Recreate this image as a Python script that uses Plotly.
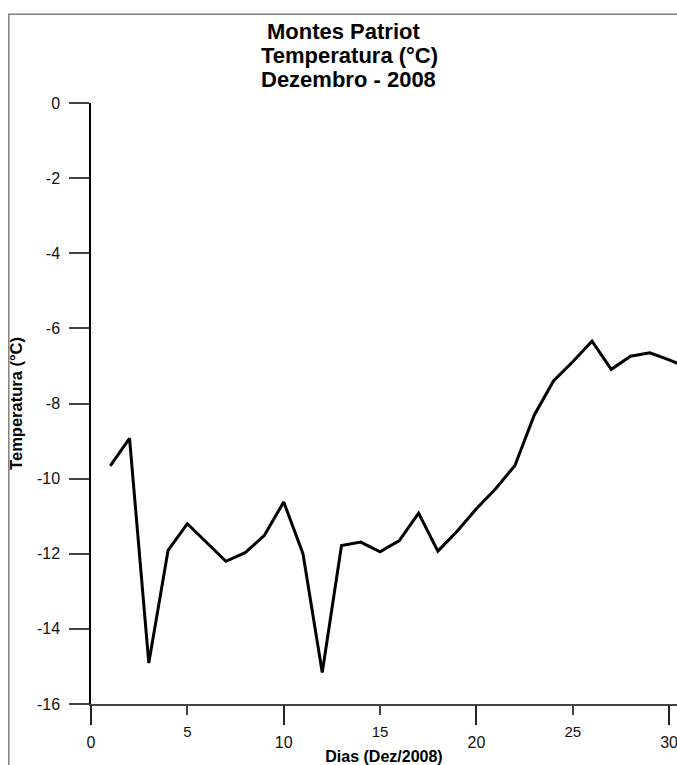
import plotly.graph_objects as go

# ---- data ----
days = list(range(1, 32))
temps = [-9.66, -8.93, -14.91, -11.91, -11.20, -11.70, -12.20, -11.97, -11.51, -10.62,
         -12.00, -15.16, -11.78, -11.69, -11.95, -11.65, -10.92, -11.93, -11.40, -10.80,
         -10.27, -9.65, -8.31, -7.40, -6.89, -6.34, -7.09, -6.74, -6.65, -6.84, -7.05]

minor_ticks = [0, 5, 10, 15, 20, 25, 30]
minor_text = ["", "5", "", "15", "", "25", ""]
major_ticks = [0, 10, 20, 30]
major_text = ["0", "10", "20", "30"]
y_ticks = [0, -2, -4, -6, -8, -10, -12, -14, -16]
y_text = ["0", "-2", "-4", "-6", "-8", "-10", "-12", "-14", "-16"]

title_lines = ["Montes Patriot", "Temperatura (°C)", "Dezembro - 2008"]
x_title = "Dias (Dez/2008)"
y_title = "Temperatura (°C)"

FONT = "Liberation Sans, Arial, sans-serif"

W, H = 677, 765
L, T, B = 91, 103, 61
PW, PH = W - L, H - T - B  # plot area size


def px_x(wx):
    return (wx - L) / PW


def px_y(wy):
    return (H - B - wy) / PH


fig = go.Figure()
fig.add_trace(go.Scatter(x=days, y=temps, mode="lines",
                         line=dict(color="#000000", width=3), xaxis="x", yaxis="y",
                         hoverinfo="skip", showlegend=False))
fig.add_trace(go.Scatter(x=[], y=[], mode="lines", xaxis="x2", yaxis="y",
                         showlegend=False, hoverinfo="skip"))

XR = [0, 30.41]

fig.update_layout(
    width=W, height=H,
    margin=dict(l=L, r=0, t=T, b=B),
    paper_bgcolor="white", plot_bgcolor="white",
    showlegend=False,
    xaxis=dict(range=XR, tickvals=minor_ticks, ticktext=minor_text,
               ticks="outside", ticklen=9, tickwidth=1.5, tickcolor="#444444",
               showline=True, linecolor="#444444", linewidth=1.5,
               showgrid=False, zeroline=False, anchor="y", automargin=False,
               ticklabeloverflow="allow",
               tickfont=dict(family=FONT, size=15, color="#111111"),
               ticklabelstandoff=4),
    xaxis2=dict(range=XR, tickvals=major_ticks, ticktext=major_text,
                overlaying="x", side="bottom", anchor="y", automargin=False,
                ticklabeloverflow="allow",
                ticks="outside", ticklen=20, tickwidth=1.5, tickcolor="#222222",
                showline=False, showgrid=False, zeroline=False,
                tickfont=dict(family=FONT, size=16, color="#111111"),
                ticklabelstandoff=4,
                title=dict(text="<b>" + x_title + "</b>", standoff=3,
                           font=dict(family=FONT, size=16, color="#000000"))),
    yaxis=dict(range=[-16, 0], tickvals=y_ticks, ticktext=y_text,
               ticks="outside", ticklen=20, tickwidth=1.5, tickcolor="#444444",
               showline=True, linecolor="#000000", linewidth=1.5,
               showgrid=False, zeroline=False, automargin=False,
               tickfont=dict(family=FONT, size=16, color="#111111"),
               ticklabelstandoff=6,
               title=dict(text="<b>" + y_title + "</b>", standoff=10,
                          font=dict(family=FONT, size=16.5, color="#000000"))),
)

# title lines (window pixel centres)
centers_px = [(343, 31), (349, 55), (348, 79)]
for txt, (cx, cy) in zip(title_lines, centers_px):
    fig.add_annotation(text="<b>" + txt + "</b>", xref="paper", yref="paper",
                       x=px_x(cx), y=px_y(cy),
                       xanchor="center", yanchor="middle", showarrow=False,
                       font=dict(family=FONT, size=22, color="#000000"))

# outer frame (cropped on right/bottom)
fig.add_shape(type="rect", xref="paper", yref="paper",
              x0=px_x(8.8), x1=1.2, y0=-0.3, y1=px_y(14.3),
              line=dict(color="#808080", width=1.5), fillcolor="rgba(0,0,0,0)",
              layer="below")

fig.write_html("out.html",
               config={"displayModeBar": False},
               post_script="document.body.style.margin='0';"
                           "document.body.style.overflow='hidden';")
